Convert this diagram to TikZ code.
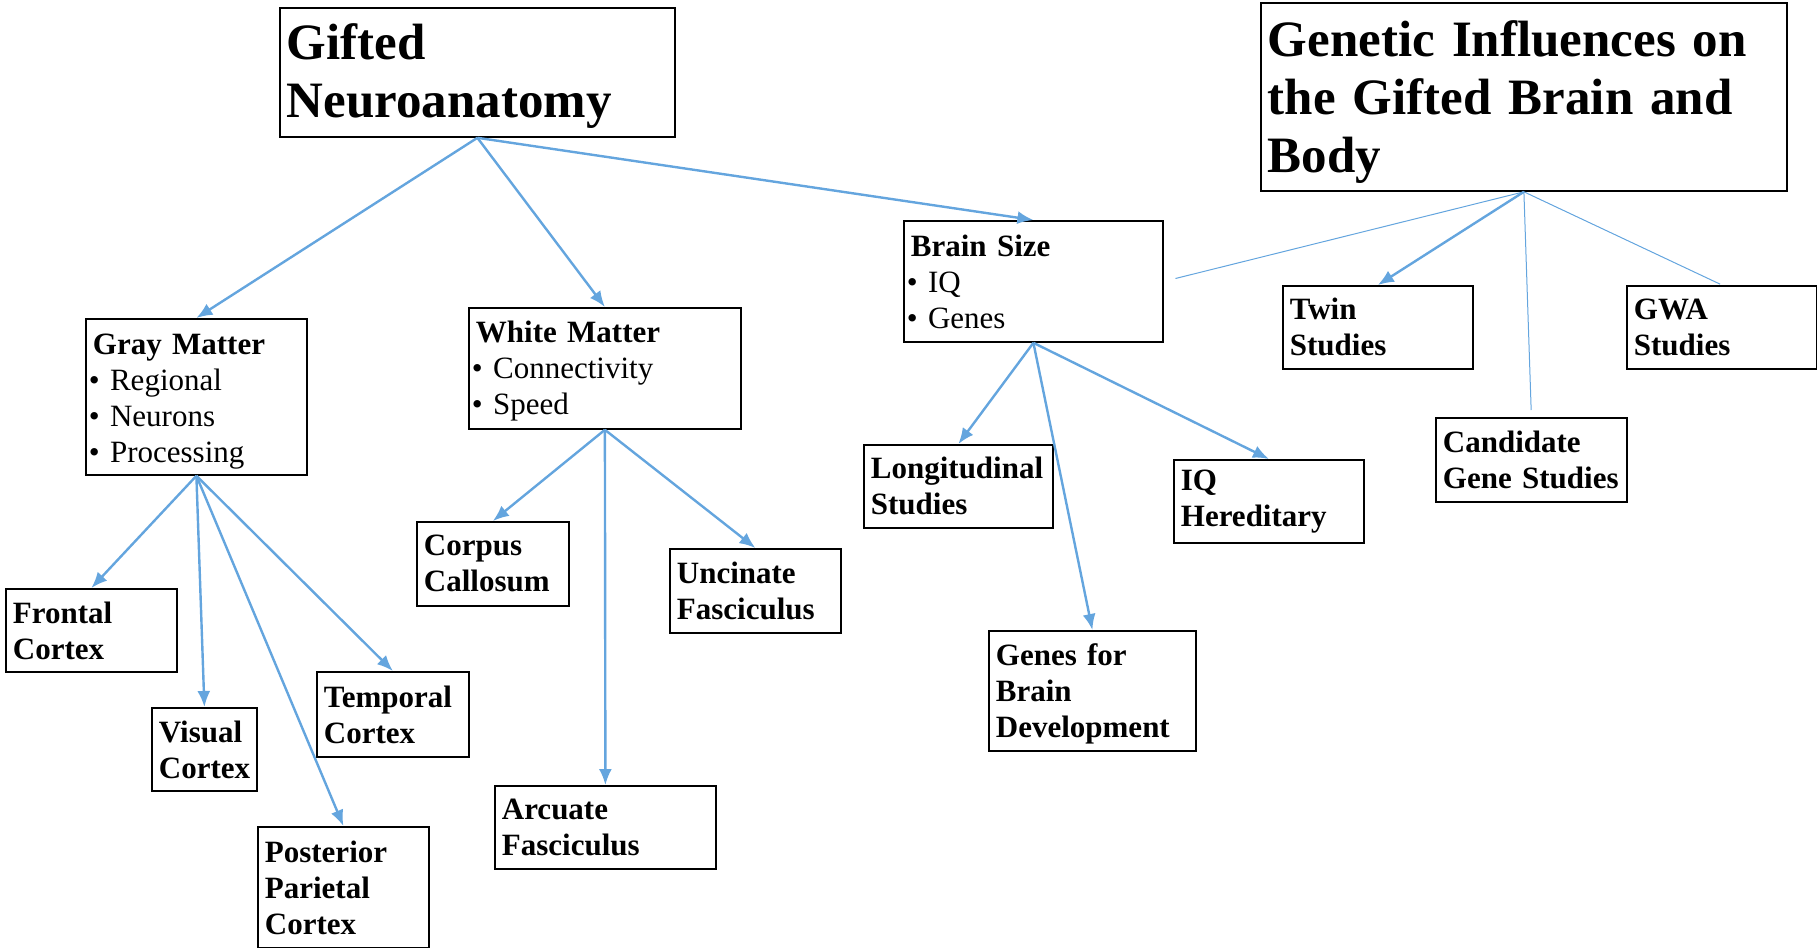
\documentclass[tikz,border=0pt]{standalone}
\usepackage{fontspec}
\setmainfont{Liberation Serif}
\usetikzlibrary{arrows.meta}
\definecolor{linkblue}{RGB}{100,165,222}
\newcommand{\bul}{\hspace*{-2pt}\textbullet\ }

\begin{document}
\begin{tikzpicture}[x=0.5pt, y=-0.5pt,
    box/.style={draw, line width=0.9pt, anchor=north west, align=left,
        inner xsep=3.5pt, inner ysep=1pt, font=\fontsize{15.5}{18}\selectfont},
    leaf/.style={box, font=\fontsize{15.5}{18}\selectfont\bfseries},
    title/.style={box, font=\fontsize{25.5}{29}\selectfont\bfseries},
    lower/.style={execute at begin node={\rule{0pt}{#1}}},
    link/.style={linkblue, line width=1.2pt, -{Latex[length=8pt,width=6.5pt]}},
    thin/.style={linkblue, line width=0.5pt}]
        \useasboundingbox (0, 0) rectangle (1817, 948);
        % top boxes
        \node[title, lower=22pt, text width=190.5pt, minimum height=64.5pt] (gifted) at (279, 7) {Gifted\\Neuroanatomy};
        \node[title, lower=23pt, text width=256pt, minimum height=94pt] (genetic) at (1260, 2) {Genetic Influences on\\the Gifted Brain and\\Body};
        % second row
        \node[box, lower=14.7pt, text width=103.5pt, minimum height=78pt] (gray) at (85, 318) {\textbf{Gray Matter}\\\bul Regional\\\bul Neurons\\\bul Processing};
        \node[box, lower=13.7pt, text width=129pt, minimum height=60.5pt] (white) at (468, 307) {\textbf{White Matter}\\\bul Connectivity\\\bul Speed};
        \node[box, text width=122.5pt, minimum height=60.5pt] (brain) at (903, 220) {\textbf{Brain Size}\\\bul IQ\\\bul Genes};
        \node[leaf, text width=88pt, minimum height=41.5pt] (twin) at (1282, 285) {Twin\\Studies};
        \node[leaf, text width=88pt, minimum height=41.5pt] (gwa) at (1626, 285) {GWA\\Studies};
        \node[leaf, text width=88.5pt, minimum height=42pt] (cand) at (1435, 417) {Candidate\\Gene Studies};
        % leaves
        \node[leaf, text width=78.5pt, minimum height=41.5pt] (frontal) at (5, 588) {Frontal\\Cortex};
        \node[leaf, text width=45.5pt, minimum height=41.5pt] (visual) at (151, 707) {Visual\\Cortex};
        \node[leaf, text width=69pt, minimum height=42.5pt] (temporal) at (316, 671) {Temporal\\Cortex};
        \node[leaf, text width=78.5pt, minimum height=60.5pt] (post) at (257, 826) {Posterior\\Parietal\\Cortex};
        \node[leaf, text width=69pt, minimum height=42pt] (corpus) at (416, 521) {Corpus\\Callosum};
        \node[leaf, text width=78.5pt, minimum height=42pt] (uncinate) at (669, 548) {Uncinate\\Fasciculus};
        \node[leaf, text width=103.5pt, minimum height=41.5pt] (arcuate) at (494, 785) {Arcuate\\Fasciculus};
        \node[leaf, text width=87.5pt, minimum height=41.5pt] (longit) at (863, 444) {Longitudinal\\Studies};
        \node[leaf, text width=88pt, minimum height=41.5pt] (iq) at (1173, 459) {IQ\\Hereditary};
        \node[leaf, lower=13.7pt, text width=96.5pt, minimum height=60pt] (genes) at (988, 630) {Genes for\\Brain\\Development};
        % arrows
        \draw[link] (gifted.south) -- (gray.north);
        \draw[link] (gifted.south) -- (white.north);
        \draw[link] (gifted.south) -- (brain.north);
        \draw[link] (gray.south) -- (frontal.north);
        \draw[link] (gray.south) -- (visual.north);
        \draw[link] (gray.south) -- (temporal.north);
        \draw[link] (gray.south) -- (post.north);
        \draw[link] (white.south) -- (corpus.north);
        \draw[link] (white.south) -- (arcuate.north);
        \draw[link] (white.south) -- (uncinate.north);
        \draw[link] (brain.south) -- (longit.north);
        \draw[link] (brain.south) -- (genes.north);
        \draw[link] (brain.south) -- (iq.north);
        \draw[link] (genetic.south) -- (twin.north);
        \draw[thin, shorten >=6pt] (genetic.south) -- (brain.east);
        \draw[thin, shorten >=3.5pt] (genetic.south) -- (cand.north);
        \draw[thin, shorten >=1pt] (genetic.south) -- (gwa.north);
    \end{tikzpicture}
\end{document}
